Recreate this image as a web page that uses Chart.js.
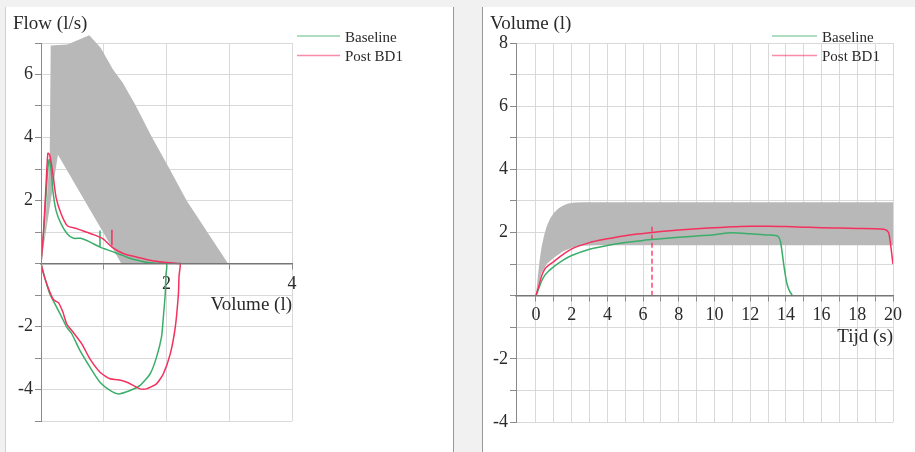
<!DOCTYPE html>
<html>
<head>
<meta charset="utf-8">
<script src="https://cdn.jsdelivr.net/npm/chart.js@4.4.1/dist/chart.umd.min.js"></script>
<style>
  html, body { margin: 0; padding: 0; width: 915px; height: 452px; overflow: hidden; background: #f1f1f1; }
  .panel { position: absolute; top: 7px; height: 445px; background: #ffffff; }
  #p1 { left: 5px; width: 447px; border-left: 1px solid #d0d0d0; border-right: 1px solid #9a9a9a; }
  #p2 { left: 482px; width: 433px; border-left: 1px solid #9a9a9a; }
  canvas { position: absolute; left: 0; top: 0; }
</style>
</head>
<body>
<div class="panel" id="p1"><canvas id="flowVolume" width="447" height="445"></canvas></div>
<div class="panel" id="p2"><canvas id="volumeTime" width="432" height="445"></canvas></div>
<script>
// ---- Flow-volume loop ----
const baselineVol  = [0, 0.05, 0.1, 0.13, 0.16, 0.19, 0.24, 0.32, 0.42, 0.52, 0.63, 0.73, 0.84, 0.94, 1.05, 1.16, 1.27, 1.37, 1.5, 1.68, 1.85, 2.0,
                      1.99, 1.98, 1.95, 1.92, 1.84, 1.74, 1.58, 1.42, 1.23, 1.1, 0.94, 0.78, 0.62, 0.49, 0.41, 0.33, 0.25, 0.14, 0.06, 0];
const baselineFlow = [0, 1.2, 2.8, 3.3, 3.0, 2.3, 1.68, 1.26, 0.94, 0.8, 0.8, 0.73, 0.62, 0.52, 0.44, 0.36, 0.28, 0.2, 0.12, 0.04, 0.01, 0,
                      -0.4, -0.96, -1.7, -2.34, -2.98, -3.5, -3.87, -4.03, -4.14, -4.03, -3.77, -3.29, -2.76, -2.23, -2.02, -1.7, -1.39, -0.96, -0.45, 0];
const postVol  = [0, 0.04, 0.08, 0.11, 0.14, 0.19, 0.24, 0.32, 0.42, 0.58, 0.73, 0.86, 0.99, 1.13, 1.32, 1.53, 1.8, 2.05, 2.18, 2.22,
                  2.2, 2.19, 2.14, 2.06, 1.95, 1.84, 1.68, 1.58, 1.47, 1.37, 1.23, 1.1, 0.94, 0.78, 0.65, 0.5, 0.41, 0.35, 0.28, 0.2, 0.12, 0.04, 0];
const postFlow = [0, 1.0, 2.5, 3.5, 3.45, 2.84, 2.1, 1.58, 1.2, 1.1, 0.99, 0.9, 0.78, 0.52, 0.31, 0.2, 0.08, 0.02, 0, 0,
                  -0.4, -0.96, -2.02, -2.87, -3.5, -3.82, -3.98, -3.98, -3.87, -3.77, -3.69, -3.66, -3.45, -3.03, -2.55, -2.15, -1.92, -1.55, -1.25, -1.15, -0.8, -0.33, 0];
// FEV1 markers on the expiratory limb
const baselineMarkVol = [0.94, 0.94], baselineMarkFlow = [0.52, 1.05];
const postMarkVol = [1.13, 1.13],     postMarkFlow = [0.57, 1.07];
// predicted normal area (outline)
const refAreaVol  = [0, 0.06, 0.14, 0.155, 0.42, 0.77, 0.95, 1.15, 1.3, 1.5, 1.77, 2.05, 2.32, 2.98, 1.28, 0.27, 0];
const refAreaFlow = [0, 1.0, 3.5, 6.92, 6.95, 7.25, 6.85, 6.15, 5.75, 5.05, 4.0, 3.0, 2.0, 0, 0, 3.45, 0];
const volumeTicks = [2, 4];

// ---- Volume-time curve ----
const baselineT = [0, 0.15, 0.3, 0.5, 0.75, 1, 1.5, 2, 3, 4, 5, 6, 7, 8, 9, 10, 11, 12, 13, 13.5, 13.7, 13.9, 14.05, 14.2, 14.35];
const baselineV = [0, 0.22, 0.45, 0.65, 0.8, 0.92, 1.12, 1.27, 1.47, 1.59, 1.68, 1.75, 1.8, 1.85, 1.89, 1.93, 1.99, 1.96, 1.92, 1.9, 1.7, 0.9, 0.4, 0.15, 0.02];
const postT = [0, 0.15, 0.3, 0.5, 0.75, 1, 1.5, 2, 3, 4, 5, 6, 7, 8, 9, 10, 11, 12, 13, 14, 15, 16, 17, 18, 19, 19.5, 19.75, 20];
const postV = [0, 0.3, 0.6, 0.85, 0.98, 1.08, 1.3, 1.48, 1.68, 1.8, 1.9, 1.97, 2.03, 2.08, 2.12, 2.15, 2.18, 2.2, 2.2, 2.19, 2.17, 2.15, 2.14, 2.13, 2.12, 2.1, 2.0, 1.0];
const markT = [6.5, 6.5], markV = [0, 2.28];
const bandUpperT = [0, 0.05, 0.1, 0.2, 0.3, 0.45, 0.6, 0.8, 1.0, 1.25, 1.5, 1.8, 2.2, 2.7, 20];
const bandUpperV = [0, 0.3, 0.6, 1.1, 1.5, 1.9, 2.2, 2.45, 2.62, 2.76, 2.85, 2.92, 2.95, 2.96, 2.96];
const bandLowerT = [20, 3.5, 2.5, 2.0, 1.5, 1.0, 0.6, 0.3, 0.1, 0];
const bandLowerV = [1.6, 1.6, 1.58, 1.52, 1.4, 1.2, 1.0, 0.7, 0.3, 0];
const timeTicks = [0, 1, 2, 3, 4, 5, 6, 7, 8, 9, 10, 11, 12, 13, 14, 15, 16, 17, 18, 19, 20];

const GREEN = '#3aae69';
const RED = '#f4305e';
const GREY_AREA = '#b8b8b8';
const GRID = '#d9d9d9';
const AXIS = '#8a8a8a';
const TEXT = '#2a2a2a';
const SERIF = '"Liberation Serif", "Times New Roman", serif';

Chart.defaults.font.family = SERIF;
Chart.defaults.color = TEXT;

const pts = (xs, ys) => xs.map((x, i) => ({ x: x, y: ys[i] }));

// fills closed outlines (datasets flagged with `band`) from the points the scales positioned
const bandPlugin = {
  id: 'bands',
  beforeDatasetsDraw(chart) {
    const ctx = chart.ctx;
    chart.data.datasets.forEach((ds, i) => {
      if (!ds.band) return;
      const els = chart.getDatasetMeta(i).data;
      if (!els.length) return;
      ctx.save();
      ctx.beginPath();
      els.forEach((p, k) => (k ? ctx.lineTo(p.x, p.y) : ctx.moveTo(p.x, p.y)));
      ctx.closePath();
      ctx.fillStyle = ds.backgroundColor;
      ctx.fill();
      ctx.restore();
    });
  }
};

// legend with line samples, stacked at a fixed spot
const sideLegend = {
  id: 'sideLegend',
  afterDraw(chart, args, opts) {
    const ctx = chart.ctx;
    ctx.save();
    ctx.font = '15px ' + SERIF;
    ctx.textBaseline = 'middle';
    let y = opts.y;
    chart.data.datasets.forEach(ds => {
      if (!ds.inLegend) return;
      ctx.globalAlpha = 0.55;
      ctx.strokeStyle = ds.borderColor;
      ctx.lineWidth = 1.5;
      ctx.beginPath();
      ctx.moveTo(opts.x, y);
      ctx.lineTo(opts.x + opts.len, y);
      ctx.stroke();
      ctx.globalAlpha = 1;
      ctx.fillStyle = TEXT;
      ctx.fillText(ds.label, opts.x + opts.len + 5, y + 2);
      y += opts.gap;
    });
    ctx.restore();
  }
};

const lineSet = (label, data, color, extra) => Object.assign({
  label: label, data: data, showLine: true, borderColor: color, backgroundColor: color,
  borderWidth: 1.5, pointRadius: 0, tension: 0.2, fill: false
}, extra || {});

const tickFont = { family: SERIF, size: 18, lineHeight: 1 };
const titleFont = { family: SERIF, size: 19, weight: 'normal', lineHeight: 1.2 };
const axisTitleFont = { family: SERIF, size: 19, weight: 'normal', lineHeight: 1 };

new Chart(document.getElementById('flowVolume'), {
  type: 'scatter',
  data: {
    datasets: [
      lineSet('Baseline', pts(baselineVol, baselineFlow), GREEN, { inLegend: true, order: 1 }),
      lineSet('Post BD1', pts(postVol, postFlow), RED, { inLegend: true, order: 0 }),
      lineSet('Baseline FEV1', pts(baselineMarkVol, baselineMarkFlow), GREEN, { order: 3, tension: 0 }),
      lineSet('Post BD1 FEV1', pts(postMarkVol, postMarkFlow), RED, { order: 2, tension: 0 }),
      { label: 'Predicted', data: pts(refAreaVol, refAreaFlow), band: true, showLine: false,
        pointRadius: 0, backgroundColor: GREY_AREA, order: 10 }
    ]
  },
  options: {
    responsive: false, animation: false, devicePixelRatio: 1, events: [],
    layout: { padding: { left: 7, right: 161, top: 0, bottom: 31 } },
    plugins: {
      legend: { display: false }, tooltip: { enabled: false },
      title: { display: true, text: 'Flow (l/s)', align: 'start', font: titleFont, color: TEXT,
               padding: { top: 6, bottom: 7.2 } },
      sideLegend: { x: 291, y: 29, gap: 19.5, len: 43 }
    },
    scales: {
      x: {
        type: 'linear', min: 0, max: 4, position: { y: 0 },
        ticks: { stepSize: 1, autoSkip: false, maxRotation: 0, padding: 7, font: tickFont, color: TEXT,
                 callback: v => (volumeTicks.includes(v) ? String(v) : '') },
        grid: { color: GRID, tickColor: AXIS, tickLength: 5 },
        border: { color: '#767676', width: 1.5, z: 1 },
        title: { display: true, text: 'Volume (l)', align: 'end', font: axisTitleFont,
                 color: TEXT, padding: { top: -5, bottom: 0 } }
      },
      y: {
        type: 'linear', min: -5, max: 7, position: 'left',
        afterFit: s => { s.width = 28; },
        ticks: { stepSize: 1, padding: 2, font: tickFont, color: TEXT,
                 callback: v => (v % 2 === 0 && v !== 0 ? String(v) : '') },
        grid: { color: GRID, tickColor: AXIS, tickLength: 6 },
        border: { color: AXIS, width: 1, z: 1 }
      }
    }
  },
  plugins: [bandPlugin, sideLegend]
});

new Chart(document.getElementById('volumeTime'), {
  type: 'scatter',
  data: {
    datasets: [
      lineSet('Baseline', pts(baselineT, baselineV), GREEN, { inLegend: true, order: 1, tension: 0, cubicInterpolationMode: 'monotone' }),
      lineSet('Post BD1', pts(postT, postV), RED, { inLegend: true, order: 0, tension: 0, cubicInterpolationMode: 'monotone' }),
      lineSet('FEV6', pts(markT, markV), RED, { order: 2, tension: 0, borderDash: [5, 3], borderWidth: 1.3 }),
      { label: 'Predicted', data: pts(bandUpperT.concat(bandLowerT), bandUpperV.concat(bandLowerV)), band: true,
        showLine: false, pointRadius: 0, backgroundColor: GREY_AREA, order: 10 }
    ]
  },
  options: {
    responsive: false, animation: false, devicePixelRatio: 1, events: [],
    layout: { padding: { left: 7, right: 22, top: 0, bottom: 30 } },
    plugins: {
      legend: { display: false }, tooltip: { enabled: false },
      title: { display: true, text: 'Volume (l)', align: 'start', font: titleFont, color: TEXT,
               padding: { top: 6, bottom: 7.2 } },
      sideLegend: { x: 289, y: 29, gap: 19.5, len: 45 }
    },
    scales: {
      x: {
        type: 'linear', min: -1.12, max: 20, position: { y: 0 },
        afterBuildTicks: s => { s.ticks = timeTicks.map(v => ({ value: v })); },
        ticks: { autoSkip: false, maxRotation: 0, padding: 6, font: tickFont, color: TEXT,
                 callback: v => (v % 2 === 0 ? String(v) : '') },
        grid: { color: GRID, tickColor: AXIS, tickLength: 5 },
        border: { color: '#767676', width: 1.5, z: 1 },
        title: { display: true, text: 'Tijd (s)', align: 'end', font: axisTitleFont,
                 color: TEXT, padding: { top: -3, bottom: 0 } }
      },
      y: {
        type: 'linear', min: -4, max: 8, position: 'left',
        afterFit: s => { s.width = 26; },
        ticks: { stepSize: 1, padding: 2, font: tickFont, color: TEXT,
                 callback: v => (v % 2 === 0 && v !== 0 ? String(v) : '') },
        grid: { color: GRID, tickColor: AXIS, tickLength: 6 },
        border: { color: AXIS, width: 1, z: 1 }
      }
    }
  },
  plugins: [bandPlugin, sideLegend]
});
</script>
</body>
</html>
